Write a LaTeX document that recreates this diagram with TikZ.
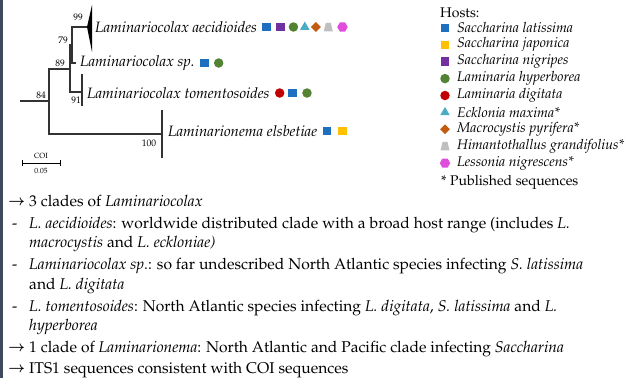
\documentclass[tikz,border=0pt]{standalone}
\usepackage[T1]{fontenc}
\usepackage{amsmath}
\usepackage{mathpazo}
\usetikzlibrary{positioning,shapes.geometric}
\definecolor{cLat}{HTML}{1F6FC0}
\definecolor{cJap}{HTML}{FFC000}
\definecolor{cNig}{HTML}{7030A0}
\definecolor{cHyp}{HTML}{548235}
\definecolor{cDig}{HTML}{C00000}
\definecolor{cEck}{HTML}{4BACC6}
\definecolor{cMac}{HTML}{C55A11}
\definecolor{cHim}{HTML}{BFBFBF}
\definecolor{cLes}{HTML}{E04CDC}
\definecolor{slate}{HTML}{3C4A5C}
\tikzset{
	branch/.style={line width=1.2pt,draw=black!80},
	taxon/.style={font=\itshape\fontsize{15}{17}\selectfont,anchor=west,inner sep=0pt},
	host/.style={font=\itshape\fontsize{14}{16}\selectfont,anchor=west,inner sep=0pt},
	support/.style={font=\fontsize{9.5}{10}\selectfont,inner sep=0pt},
	body/.style={font=\fontsize{15.6}{17}\selectfont,anchor=base west,inner sep=0pt},
	hsq/.style={rectangle,fill=#1,minimum size=8.5pt,inner sep=0pt},
	hdot/.style={circle,fill=#1,minimum size=9.5pt,inner sep=0pt},
	htri/.style={regular polygon,regular polygon sides=3,fill=#1,minimum size=11pt,inner sep=0pt},
	hdia/.style={diamond,fill=#1,minimum size=10pt,inner sep=0pt},
	htrap/.style={rectangle,minimum width=9pt,minimum height=8.5pt,inner sep=0pt,
		path picture={\fill[#1] (path picture bounding box.south west) -- (path picture bounding box.south east)
			-- ([xshift=-2pt]path picture bounding box.north east) -- ([xshift=2pt]path picture bounding box.north west) -- cycle;}},
	hhex/.style={regular polygon,regular polygon sides=6,fill=#1,minimum size=10.5pt,inner sep=0pt},
}
\begin{document}
\begin{tikzpicture}[x=1pt,y=-1pt]
	\useasboundingbox (0,0) rectangle (628,378);
	\fill[white] (0,0) rectangle (628,378);
	\fill[slate] (0,0) rectangle (3,378);
	% tree
	\coordinate (root) at (20,101);
	\coordinate (n84) at (49,101);
	\coordinate (n89) at (70,69);
	\coordinate (n79) at (72,45);
	\coordinate (n99) at (87,27);
	\coordinate (tsp) at (76,63);
	\coordinate (n91) at (82,92);
	\coordinate (n100) at (162,134);
	\draw[branch] (root) -- (n84);
	\draw[branch] (n89) -| (n84) |- (n100);
	\draw[branch] (n79) -| (n89) |- (n91);
	\draw[branch] (n99) -| (n79) |- (tsp);
	\draw[branch] ([yshift=-14]n91) -- ([yshift=18]n91);
	\draw[branch] ([yshift=-24]n100) -- ([yshift=24]n100);
	\fill[black] (n99) -- (92,5) -- (92,52) -- cycle;
	\foreach \i/\p in {99/{(78,17)},79/{(63,40)},89/{(60,63)},91/{(76,100)},84/{(41,95)},100/{(149,143)}}
	\node[support] (s\i) at \p {\i};
	% scale bar
	\coordinate (sbl) at (22,163);
	\coordinate (sbr) at (60,163);
	\draw[line width=0.8pt] (sbl) -- (sbr);
	\draw[line width=0.8pt] ([yshift=-3]sbl) -- ([yshift=3]sbl);
	\draw[line width=0.8pt] ([yshift=-3]sbr) -- ([yshift=3]sbr);
	\node[support,font=\fontsize{7.5}{8}\selectfont] (coi) at (41,156) {COI};
	\node[support,font=\fontsize{7.5}{8}\selectfont] (sbv) at (41,171) {0.05};
	% taxa and their hosts
	\node[taxon] (tAec) at (95,27) {Laminariocolax aecidioides};
	\node[hsq=cLat,right=5pt of tAec.east] (ae1) {};
	\node[hsq=cNig,right=5pt of ae1] (ae2) {};
	\node[hdot=cHyp,right=3.5pt of ae2] (ae3) {};
	\node[htri=cEck,right=3pt of ae3] (ae4) {};
	\node[hdia=cMac,right=2.5pt of ae4] (ae5) {};
	\node[htrap=cHim,right=2.5pt of ae5] (ae6) {};
	\node[hhex=cLes,right=4pt of ae6] (ae7) {};
	\node[taxon] (tSp) at (80,63) {Laminariocolax sp.};
	\node[hsq=cLat,right=5pt of tSp.east] (sp1) {};
	\node[hdot=cHyp,right=5pt of sp1] (sp2) {};
	\node[taxon] (tTom) at (87,93) {Laminariocolax tomentosoides};
	\node[hdot=cDig,right=5pt of tTom.east] (to1) {};
	\node[hsq=cLat,right=3.5pt of to1] (to2) {};
	\node[hdot=cHyp,right=5pt of to2] (to3) {};
	\node[taxon] (tEls) at (168,131) {Laminarionema elsbetiae};
	\node[hsq=cLat,right=5pt of tEls.east] (el1) {};
	\node[hsq=cJap,right=6.5pt of el1] (el2) {};
	% legend
	\node[host,font=\fontsize{14}{16}\selectfont] (hosts) at (440,13) {Hosts:};
	\foreach \m/\c/\t [count=\k] in {hsq/cLat/Saccharina latissima,hsq/cJap/Saccharina japonica,hsq/cNig/Saccharina nigripes,hdot/cHyp/Laminaria hyperborea,hdot/cDig/Laminaria digitata,htri/cEck/Ecklonia maxima*,hdia/cMac/Macrocystis pyrifera*,htrap/cHim/Himantothallus grandifolius*,hhex/cLes/Lessonia nigrescens*}
	{
		\node[\m=\c] (m\k) at (445,{11+16.9*\k}) {};
		\node[host] (h\k) at (457,{11+16.9*\k}) {\t};
	}
	\node[host,font=\fontsize{14}{16}\selectfont] (pub) at (441,182) {* Published sequences};
	% conclusions
	\foreach \y in {228,269,311}
	\node[body] (d\y) at (12,\y) {-};
	\foreach \y in {206,352,373}
	\node[body,font=\fontsize{14}{14}\selectfont] (a\y) at (8,{\y-1}) {$\boldsymbol{\rightarrow}$};
	\node[body] (l1) at (29,206) {3 clades of \textit{Laminariocolax}};
	\node[body] (l2) at (29,228) {\textit{L. aecidioides}: worldwide distributed clade with a broad host range (includes \textit{L.}};
	\node[body] (l3) at (29,247) {\textit{macrocystis} and \textit{L. eckloniae)}};
	\node[body] (l4) at (29,269) {\textit{Laminariocolax sp.}: so far undescribed North Atlantic species infecting \textit{S. latissima}};
	\node[body] (l5) at (29,289) {and \textit{L. digitata}};
	\node[body] (l6) at (29,311) {\textit{L. tomentosoides}: North Atlantic species infecting \textit{L. digitata}, \textit{S. latissima} and \textit{L.}};
	\node[body] (l7) at (29,330) {\textit{hyperborea}};
	\node[body] (l8) at (29,352) {1 clade of \textit{Laminarionema}: North Atlantic and Pacific clade infecting \textit{Saccharina}};
	\node[body] (l9) at (29,373) {ITS1 sequences consistent with COI sequences};
\end{tikzpicture}
\end{document}
